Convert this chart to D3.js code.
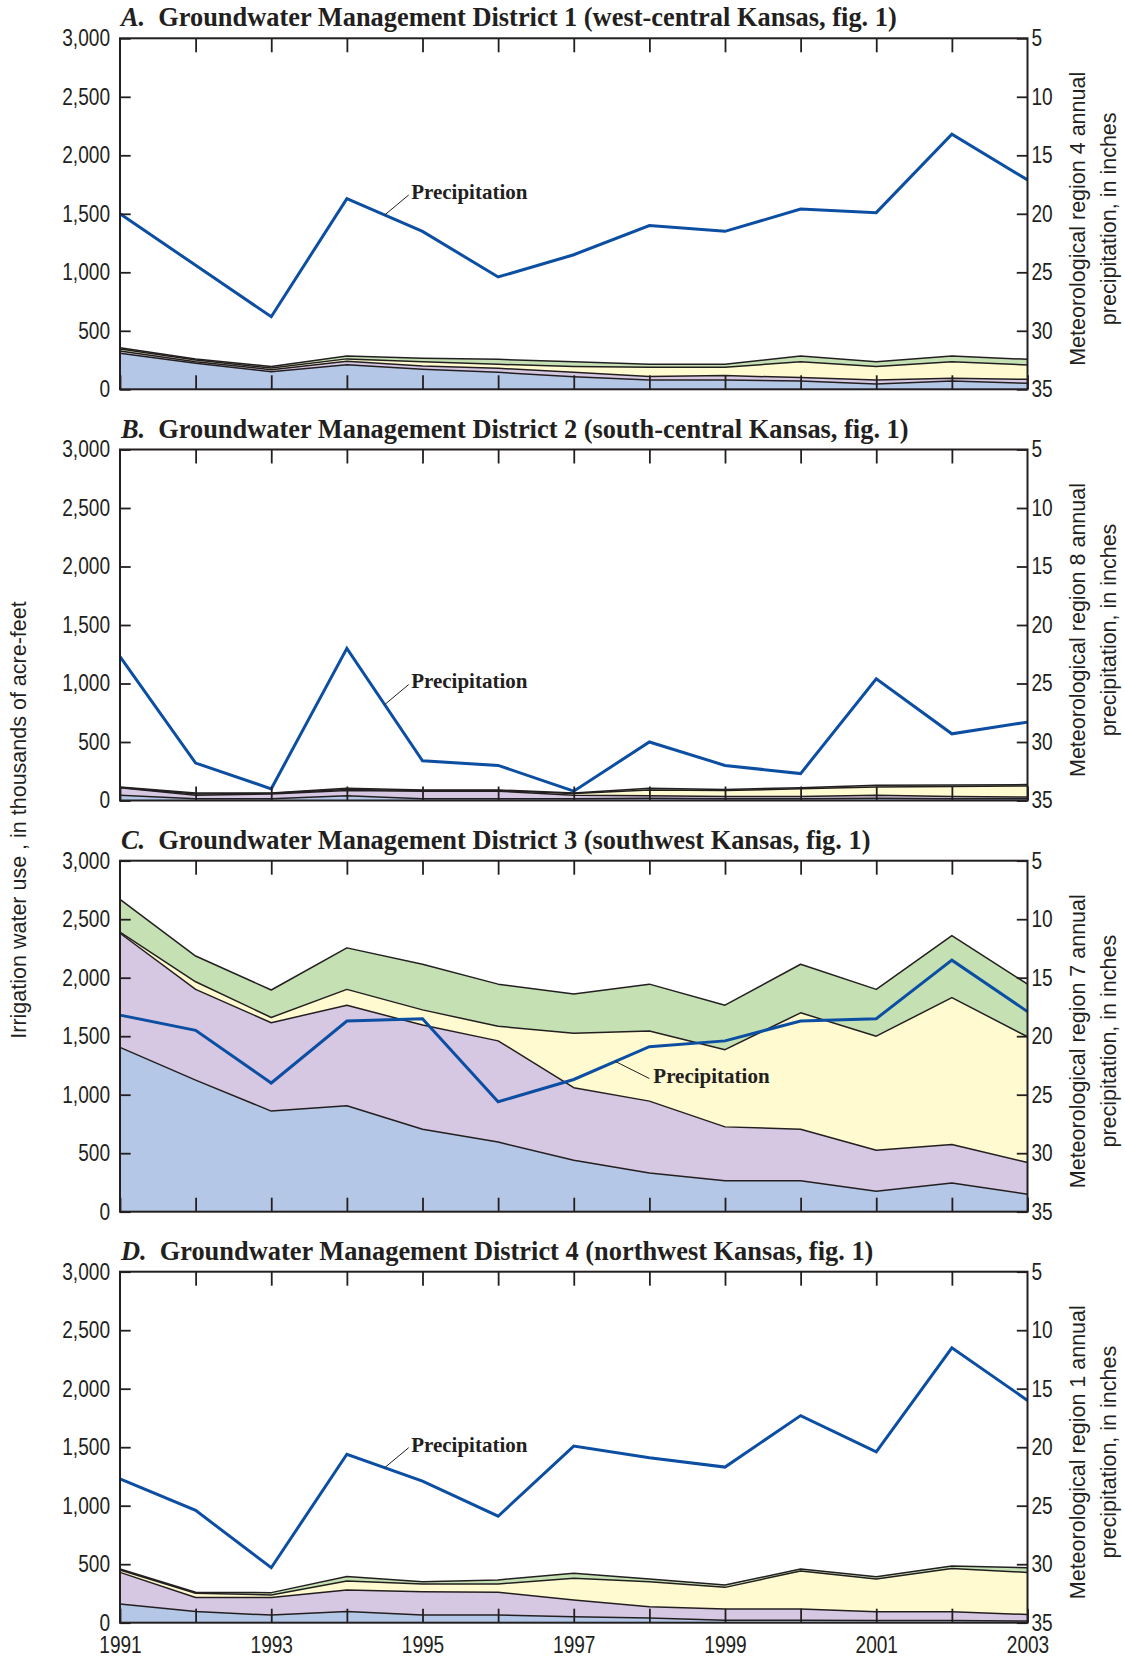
<!DOCTYPE html>
<html>
<head>
<meta charset="utf-8">
<script src="https://cdn.jsdelivr.net/npm/d3@7"></script>
<style>
  body { margin: 0; background: #fff; }
  svg { display: block; }
</style>
</head>
<body>
<svg id="chart" width="1125" height="1658"></svg>
<script>
// Years on the x axis and tick values
const years = [1991, 1992, 1993, 1994, 1995, 1996, 1997, 1998, 1999, 2000, 2001, 2002, 2003];
const yearLabels = [1991, 1993, 1995, 1997, 1999, 2001, 2003];
const useTicks = [0, 500, 1000, 1500, 2000, 2500, 3000];
const precipTicks = [5, 10, 15, 20, 25, 30, 35];

// Panel headings
const panelLetters = ["A.", "B.", "C.", "D."];
const panelTitles = [
  "Groundwater Management District 1 (west-central Kansas, fig. 1)",
  "Groundwater Management District 2 (south-central Kansas, fig. 1)",
  "Groundwater Management District 3 (southwest Kansas, fig. 1)",
  "Groundwater Management District 4 (northwest Kansas, fig. 1)"
];
const regionTitles = [
  "Meteorological region 4 annual",
  "Meteorological region 8 annual",
  "Meteorological region 7 annual",
  "Meteorological region 1 annual"
];

// Irrigation water use, thousands of acre-feet, four stacked components per district
const gmd1Layer1 = [308, 222, 150, 210, 171, 145, 108, 80, 80, 71, 46, 71, 51];
const gmd1Layer2 = [20, 14, 18, 30, 29, 35, 37, 30, 37, 29, 34, 23, 34];
const gmd1Layer3 = [17, 14, 14, 20, 36, 34, 49, 78, 71, 136, 114, 142, 123];
const gmd1Layer4 = [11, 9, 12, 25, 29, 42, 42, 26, 26, 49, 42, 49, 48];

const gmd2Layer1 = [45, 15, 15, 40, 15, 15, 15, 20, 15, 15, 20, 15, 15];
const gmd2Layer2 = [65, 30, 40, 45, 65, 65, 30, 20, 20, 20, 25, 20, 15];
const gmd2Layer3 = [2, 10, 7, 10, 5, 5, 15, 50, 50, 65, 70, 85, 95];
const gmd2Layer4 = [3, 10, 3, 10, 5, 5, 5, 15, 10, 10, 15, 12, 11];

const gmd3Layer1 = [1405, 1125, 860, 905, 705, 595, 440, 330, 265, 265, 175, 245, 150];
const gmd3Layer2 = [975, 775, 755, 860, 890, 865, 620, 615, 460, 440, 350, 330, 270];
const gmd3Layer3 = [10, 65, 45, 135, 130, 125, 465, 600, 660, 995, 975, 1255, 1075];
const gmd3Layer4 = [280, 220, 235, 355, 390, 360, 335, 400, 380, 415, 400, 530, 450];

const gmd4Layer1 = [160, 95, 65, 95, 65, 65, 50, 40, 22, 22, 18, 18, 15];
const gmd4Layer2 = [270, 120, 150, 185, 200, 195, 145, 97, 95, 95, 76, 76, 55];
const gmd4Layer3 = [20, 37, 22, 77, 65, 71, 185, 213, 185, 325, 279, 370, 360];
const gmd4Layer4 = [9, 8, 20, 37, 20, 35, 43, 23, 20, 17, 20, 20, 40];

// Annual precipitation, inches (plotted on the inverted right axis)
const gmd1Precip = [20.0, 24.4, 28.8, 18.7, 21.5, 25.4, 23.5, 21.0, 21.5, 19.6, 19.9, 13.2, 17.1];
const gmd2Precip = [22.7, 31.8, 34.0, 22.0, 31.6, 32.0, 34.2, 30.0, 32.0, 32.7, 24.6, 29.3, 28.3];
const gmd3Precip = [18.2, 19.5, 24.0, 18.7, 18.5, 25.6, 23.7, 20.9, 20.4, 18.7, 18.5, 13.5, 17.9];
const gmd4Precip = [22.7, 25.4, 30.3, 20.6, 22.9, 25.9, 19.9, 20.9, 21.7, 17.3, 20.4, 11.5, 16.0];

const layerFills = ["#b5c7e6", "#d6c8e2", "#fffad0", "#c5e1b4"];
const ink = "#231f20";
const lineBlue = "#0b4ea2";

// Layout
const plotLeft = 120, plotRight = 1027.5, plotHeight = 351;
const panelTops = [38.3, 449.5, 860.7, 1271.7];

// Where the "Precipitation" callout leaves the line, its offset, and the label shift
const calloutYear = [1994.5, 1994.5, 1997.55, 1994.5];
const calloutOffset = [[24, -20], [24, -20], [34, 17], [24, -20]];
const calloutText = [[2.5, 4.5], [2.5, 3], [4, 5], [2.5, 4]];

const panels = [
  { layers: [gmd1Layer1, gmd1Layer2, gmd1Layer3, gmd1Layer4], precip: gmd1Precip },
  { layers: [gmd2Layer1, gmd2Layer2, gmd2Layer3, gmd2Layer4], precip: gmd2Precip },
  { layers: [gmd3Layer1, gmd3Layer2, gmd3Layer3, gmd3Layer4], precip: gmd3Precip },
  { layers: [gmd4Layer1, gmd4Layer2, gmd4Layer3, gmd4Layer4], precip: gmd4Precip }
];

const svg = d3.select("#chart");
const x = d3.scaleLinear().domain([1991, 2003]).range([plotLeft, plotRight]);

const sansFont = "'Liberation Sans', Arial, Helvetica, sans-serif";
const serifFont = "'Liberation Serif', 'Times New Roman', Times, serif";
const condensed = 0.83;

panels.forEach((p, i) => {
  const top = panelTops[i];
  const bottom = top + plotHeight;
  const yUse = d3.scaleLinear().domain([0, 3000]).range([bottom, top]);
  const yPrecip = d3.scaleLinear().domain([35, 5]).range([bottom, top]);

  const g = svg.append("g").attr("class", "panel");

  // stacked water-use components
  const rows = years.map((yr, j) => ({ year: yr, k0: p.layers[0][j], k1: p.layers[1][j], k2: p.layers[2][j], k3: p.layers[3][j] }));
  const series = d3.stack().keys(["k0", "k1", "k2", "k3"])(rows);

  const area = d3.area().x(d => x(d.data.year)).y0(d => yUse(d[0])).y1(d => yUse(d[1]));
  const topLine = d3.line().x(d => x(d.data.year)).y(d => yUse(d[1]));

  g.selectAll("path.band").data(series).join("path")
    .attr("class", "band")
    .attr("d", area)
    .attr("fill", (d, k) => layerFills[k])
    .attr("stroke", "none");

  g.selectAll("path.bandEdge").data(series).join("path")
    .attr("class", "bandEdge")
    .attr("d", topLine)
    .attr("fill", "none")
    .attr("stroke", ink)
    .attr("stroke-width", 1.5)
    .attr("stroke-linejoin", "round");

  // precipitation line
  const precipLine = d3.line().x((d, j) => x(years[j])).y(d => yPrecip(d));
  g.append("path")
    .attr("d", precipLine(p.precip))
    .attr("fill", "none")
    .attr("stroke", lineBlue)
    .attr("stroke-width", 3)
    .attr("stroke-linejoin", "miter");

  // callout
  const cy = calloutYear[i];
  const j0 = Math.floor(cy - 1991);
  const t = cy - 1991 - j0;
  const pv = p.precip[j0] + (p.precip[j0 + 1] - p.precip[j0]) * t;
  const sx = x(cy), sy = yPrecip(pv);
  const [ox, oy] = calloutOffset[i];
  const [tx, ty] = calloutText[i];
  g.append("line")
    .attr("x1", sx).attr("y1", sy).attr("x2", sx + ox).attr("y2", sy + oy)
    .attr("stroke", ink).attr("stroke-width", 1);
  g.append("text")
    .attr("x", sx + ox + tx)
    .attr("y", sy + oy + ty)
    .attr("font-family", serifFont)
    .attr("font-weight", "bold")
    .attr("font-size", 21)
    .attr("fill", ink)
    .text("Precipitation");

  // axes
  const axisStyle = sel => {
    sel.select(".domain").remove();
    sel.selectAll(".tick line").attr("stroke", ink).attr("stroke-width", 1.8);
    sel.selectAll(".tick text")
      .attr("fill", ink)
      .attr("font-family", sansFont)
      .attr("font-size", 23)
      .classed("cond", true);
  };

  g.append("g")
    .attr("transform", `translate(${plotLeft},0)`)
    .call(d3.axisLeft(yUse).tickValues(useTicks).tickSizeInner(-10.7).tickSizeOuter(0)
      .tickPadding(10).tickFormat(d3.format(",")))
    .call(axisStyle);

  g.append("g")
    .attr("transform", `translate(${plotRight},0)`)
    .call(d3.axisRight(yPrecip).tickValues(precipTicks).tickSizeInner(-10.7).tickSizeOuter(0)
      .tickPadding(4).tickFormat(d3.format("d")))
    .call(axisStyle);

  g.append("g")
    .attr("transform", `translate(0,${top})`)
    .call(d3.axisTop(x).tickValues(years.slice(1, -1)).tickSizeInner(-14).tickSizeOuter(0).tickFormat(""))
    .call(axisStyle);

  const isLast = i === panels.length - 1;
  g.append("g")
    .attr("transform", `translate(0,${bottom})`)
    .call(d3.axisBottom(x).tickValues(years).tickSizeInner(-14).tickSizeOuter(0).tickPadding(14)
      .tickFormat(d => (isLast && yearLabels.includes(d)) ? String(d) : ""))
    .call(axisStyle);

  // plot frame
  g.append("rect")
    .attr("x", plotLeft).attr("y", top)
    .attr("width", plotRight - plotLeft).attr("height", plotHeight)
    .attr("fill", "none").attr("stroke", ink).attr("stroke-width", 2);

  // heading
  const title = g.append("text")
    .attr("x", plotLeft + 1)
    .attr("y", top - 12)
    .attr("font-family", serifFont)
    .attr("font-weight", "bold")
    .attr("font-size", 26.4)
    .attr("fill", ink);
  title.append("tspan").attr("font-style", "italic").text(panelLetters[i]);
  title.append("tspan").attr("dx", 13).text(panelTitles[i]);

  // right-hand axis title (two lines)
  const midY = (top + bottom) / 2 + 5;
  [[regionTitles[i], 1079], ["precipitation, in inches", 1110]].forEach(([txt, cx]) => {
    g.append("text")
      .attr("transform", `translate(${cx},${midY}) rotate(-90)`)
      .attr("text-anchor", "middle")
      .attr("dominant-baseline", "middle")
      .attr("font-family", sansFont)
      .attr("font-size", 21.5)
      .attr("fill", ink)
      .text(txt);
  });
});

// shared left axis title
svg.append("text")
  .attr("transform", `translate(20,820) rotate(-90)`)
  .attr("text-anchor", "middle")
  .attr("dominant-baseline", "middle")
  .attr("font-family", sansFont)
  .attr("font-size", 21.5)
  .attr("fill", ink)
  .text("Irrigation water use , in thousands of acre-feet");

// narrow the numeric tick labels to a condensed look
svg.selectAll("text.cond").each(function () {
  const w = this.getComputedTextLength();
  if (w > 0) {
    d3.select(this).attr("textLength", w * condensed).attr("lengthAdjust", "spacingAndGlyphs");
  }
});
</script>
</body>
</html>
